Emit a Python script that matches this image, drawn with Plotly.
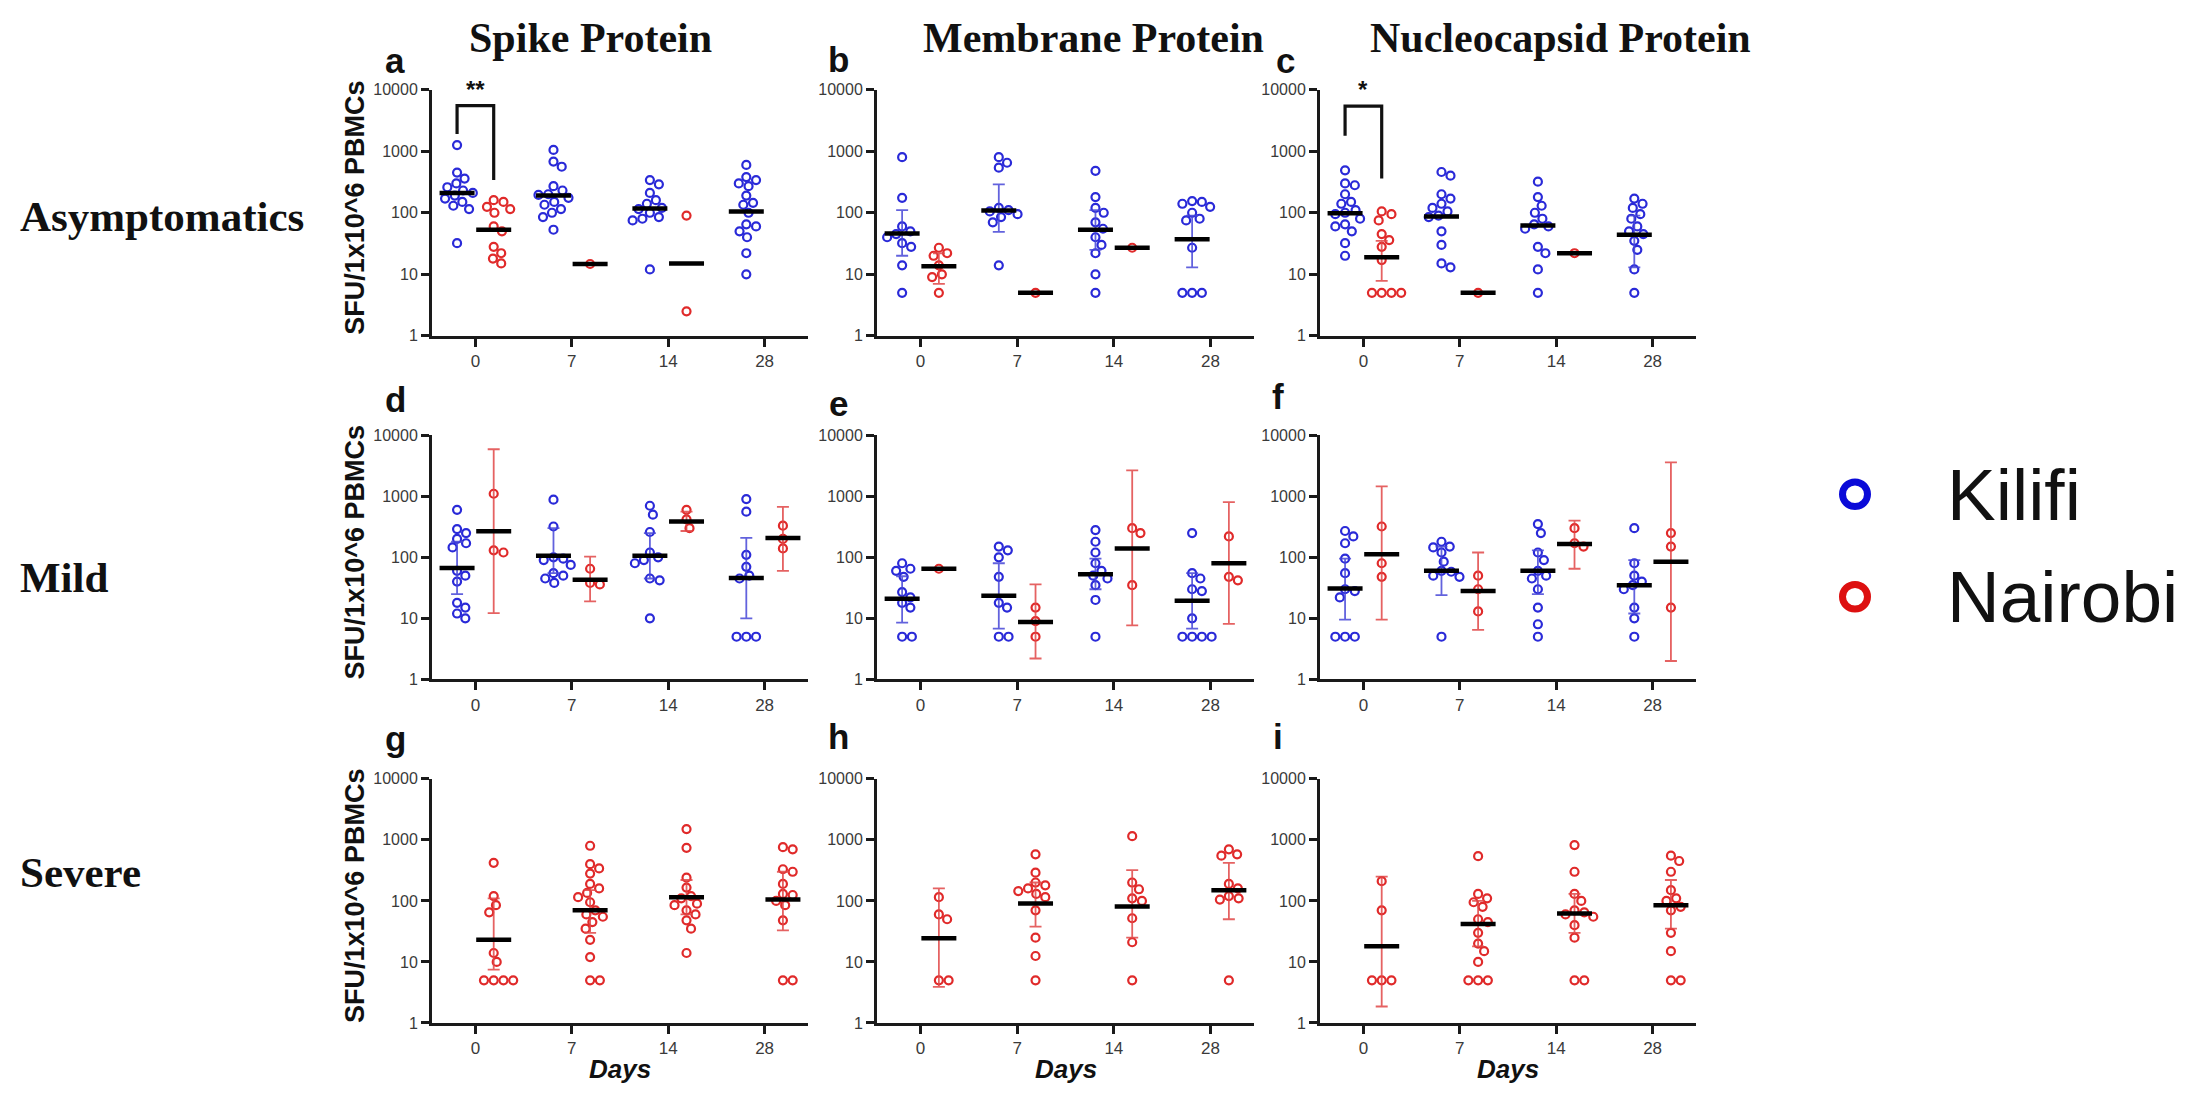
import math
import plotly.graph_objects as go

# ---- categories -------------------------------------------------------------
days = ["0", "7", "14", "28"]
proteins = ["Spike Protein", "Membrane Protein", "Nucleocapsid Protein"]
cohorts = ["Asymptomatics", "Mild", "Severe"]
y_ticks = [1, 10, 100, 1000, 10000]

# ---- Spike / Asymptomatics (a) -------------------------------------------------
a_kilifi = [[1260, 450, 360, 300, 260, 230, 210, 190, 170, 150, 130, 115, 32],
            [1050, 680, 560, 270, 230, 200, 195, 175, 150, 135, 115, 100, 85, 53],
            [340, 290, 210, 160, 140, 120, 115, 100, 85, 80, 75, 12],
            [600, 380, 340, 300, 270, 190, 145, 135, 100, 65, 60, 50, 40, 22, 10]]
a_kilifi_gm = [210, 190, 117, 105]
a_kilifi_ci = [None, None, None, None]
a_nairobi = [[160, 150, 125, 115, 100, 60, 50, 28, 22, 18, 15], [14.7], [90, 2.5], []]
a_nairobi_gm = [53, 14.7, 15, None]
a_nairobi_ci = [None, None, None, None]

# ---- Membrane / Asymptomatics (b) ----------------------------------------------
b_kilifi = [[800, 175, 60, 50, 45, 40, 32, 28, 14, 5],
            [800, 650, 540, 120, 110, 105, 95, 85, 70, 14],
            [480, 180, 120, 100, 70, 55, 40, 30, 22, 10, 5],
            [155, 150, 140, 125, 100, 80, 75, 27, 5, 5, 5]]
b_kilifi_gm = [46, 109, 53, 37]
b_kilifi_ci = [(20, 110), (49, 290), (25, 110), (13, 90)]
b_nairobi = [[27, 22, 20, 14, 10, 9, 5], [5], [27], []]
b_nairobi_gm = [13.5, 5, 27, None]
b_nairobi_ci = [(7, 22), None, None, None]

# ---- Nucleocapsid / Asymptomatics (c) ------------------------------------------
c_kilifi = [[490, 300, 280, 200, 150, 140, 110, 100, 95, 80, 65, 60, 50, 32, 20],
            [460, 400, 200, 170, 140, 120, 105, 90, 85, 50, 30, 15, 13],
            [320, 180, 130, 100, 80, 65, 60, 55, 28, 22, 12, 5],
            [170, 140, 120, 95, 80, 60, 50, 45, 35, 25, 12, 5]]
c_kilifi_gm = [98, 87, 62, 44]
c_kilifi_ci = [None, None, None, (13, 90)]
c_nairobi = [[105, 95, 75, 45, 36, 28, 17, 5, 5, 5, 5], [5], [22], []]
c_nairobi_gm = [19, 5, 22, None]
c_nairobi_ci = [(7.8, 35), None, None, None]

# ---- Spike / Mild (d) -----------------------------------------------------------
d_kilifi = [[600, 290, 250, 200, 170, 145, 60, 50, 40, 18, 15, 12, 10],
            [880, 320, 100, 95, 90, 75, 55, 50, 45, 38],
            [700, 500, 260, 120, 100, 90, 80, 45, 42, 10],
            [900, 560, 110, 70, 50, 45, 5, 5, 5]]
d_kilifi_gm = [67, 106, 106, 46]
d_kilifi_ci = [(25, 180), (55, 300), (45, 250), (10, 208)]
d_nairobi = [[1100, 130, 120], [65, 38, 36], [600, 420, 300], [330, 200, 140]]
d_nairobi_gm = [267, 43, 385, 208]
d_nairobi_ci = [(12.2, 5900), (19, 103), (270, 560), (60, 670)]

# ---- Membrane / Mild (e) --------------------------------------------------------
e_kilifi = [[80, 65, 60, 48, 27, 22, 18, 15, 5, 5],
            [150, 130, 100, 48, 18, 15, 5, 5],
            [280, 180, 120, 80, 60, 50, 45, 35, 20, 5],
            [250, 55, 45, 30, 28, 10, 5, 5, 5, 5]]
e_kilifi_gm = [21, 23.5, 53, 19.5]
e_kilifi_ci = [(8.5, 49), (6.8, 80), (30, 95), (6.8, 55)]
e_nairobi = [[65], [15, 9, 5], [300, 250, 35], [220, 48, 42]]
e_nairobi_gm = [65, 8.7, 140, 80]
e_nairobi_ci = [None, (2.2, 36), (7.7, 2650), (8.1, 800)]

# ---- Nucleocapsid / Mild (f) ----------------------------------------------------
f_kilifi = [[270, 220, 170, 95, 55, 30, 28, 22, 5, 5, 5],
            [180, 150, 145, 120, 85, 60, 58, 50, 48, 5],
            [350, 250, 120, 90, 60, 50, 45, 30, 15, 8, 5],
            [300, 80, 50, 40, 35, 30, 15, 10, 5]]
f_kilifi_gm = [30.7, 60, 60, 35]
f_kilifi_ci = [(9.5, 95), (24, 150), (25, 130), (12, 90)]
f_nairobi = [[320, 80, 48], [50, 30, 13], [300, 170, 150], [250, 150, 15]]
f_nairobi_gm = [112, 28, 165, 85]
f_nairobi_ci = [(9.5, 1450), (6.5, 120), (65, 400), (2, 3600)]

# ---- Severe cohort (Nairobi only): g, h, i ---------------------------------------
g_nairobi = [[420, 120, 85, 65, 14, 10, 5, 5, 5, 5],
             [800, 400, 340, 280, 190, 160, 135, 115, 95, 70, 60, 55, 45, 35, 23, 12, 5, 5],
             [1500, 740, 240, 165, 120, 110, 90, 85, 70, 60, 48, 35, 14],
             [760, 700, 330, 300, 190, 130, 125, 100, 85, 48, 5, 5]]
g_nairobi_gm = [23, 70, 115, 105]
g_nairobi_ci = [(7.5, 110), (30, 150), (60, 220), (33, 300)]

h_nairobi = [[115, 60, 50, 5, 5],
             [580, 290, 200, 180, 160, 145, 130, 115, 70, 25, 12.5, 5],
             [1150, 200, 155, 110, 100, 52, 21, 5],
             [700, 580, 550, 190, 160, 120, 110, 105, 5]]
h_nairobi_gm = [24.5, 91, 81, 150]
h_nairobi_ci = [(3.9, 160), (38, 200), (25, 320), (50, 420)]

i_nairobi = [[210, 70, 5, 5, 5],
             [540, 130, 110, 95, 80, 50, 45, 30, 20, 15, 10, 5, 5, 5],
             [820, 300, 130, 100, 70, 65, 60, 55, 40, 25, 5, 5],
             [550, 450, 300, 150, 110, 100, 80, 70, 30, 15, 5, 5]]
i_nairobi_gm = [18, 42, 62, 85]
i_nairobi_ci = [(1.86, 250), (18, 100), (30, 130), (35, 220)]

# ---- styling -----------------------------------------------------------------------
W, H = 2190, 1093
KILIFI = "#2a2ad8"
NAIROBI = "#e02a2a"
KILIFI_ERR = "rgba(70,70,215,0.85)"
NAIROBI_ERR = "rgba(225,70,70,0.85)"
SANS = "Arial, Liberation Sans, Helvetica, sans-serif"
SERIF = "Times New Roman, Liberation Serif, serif"

col_px = [(432, 808), (877, 1254), (1320, 1696)]
row_px = [(83, 333), (434, 682), (783, 1031)]
X_RANGE = [-0.45, 3.45]
GROUP_SHIFT = 0.19

panels = [
    ("a", a_kilifi, a_kilifi_gm, a_kilifi_ci, a_nairobi, a_nairobi_gm, a_nairobi_ci),
    ("b", b_kilifi, b_kilifi_gm, b_kilifi_ci, b_nairobi, b_nairobi_gm, b_nairobi_ci),
    ("c", c_kilifi, c_kilifi_gm, c_kilifi_ci, c_nairobi, c_nairobi_gm, c_nairobi_ci),
    ("d", d_kilifi, d_kilifi_gm, d_kilifi_ci, d_nairobi, d_nairobi_gm, d_nairobi_ci),
    ("e", e_kilifi, e_kilifi_gm, e_kilifi_ci, e_nairobi, e_nairobi_gm, e_nairobi_ci),
    ("f", f_kilifi, f_kilifi_gm, f_kilifi_ci, f_nairobi, f_nairobi_gm, f_nairobi_ci),
    ("g", None, None, None, g_nairobi, g_nairobi_gm, g_nairobi_ci),
    ("h", None, None, None, h_nairobi, h_nairobi_gm, h_nairobi_ci),
    ("i", None, None, None, i_nairobi, i_nairobi_gm, i_nairobi_ci),
]


def swarm_x(values, center, px_per_unit, px_per_decade, diam=9.5):
    """Beeswarm layout: nudge overlapping circles sideways in pixel space."""
    placed = []
    xs = [0.0] * len(values)
    order = sorted(range(len(values)), key=lambda k: -values[k])
    cands = [0.0]
    for s in range(1, 60):
        cands += [s * 0.75, -s * 0.75]
    for k in order:
        y = math.log10(values[k]) * px_per_decade
        for off in cands:
            if all((off - px) ** 2 + (y - py) ** 2 >= diam ** 2 for px, py in placed):
                break
        placed.append((off, y))
        xs[k] = center + off / px_per_unit
    return xs


fig = go.Figure()
layout = {}

for p, (letter, kv, kgm, kci, nv, ngm, nci) in enumerate(panels):
    r, c = divmod(p, 3)
    xid = "" if p == 0 else str(p + 1)
    xa, ya = "x" + xid, "y" + xid
    x0, x1 = col_px[c]
    y0, y1 = row_px[r]
    ppu = (x1 - x0) / (X_RANGE[1] - X_RANGE[0])
    ppd = (y1 - y0) / 4.0

    layout["xaxis" + xid] = dict(
        domain=[x0 / W, x1 / W], anchor=ya, range=X_RANGE,
        tickmode="array", tickvals=[0, 1, 2, 3], ticktext=days,
        ticks="outside", ticklen=8, tickwidth=3, tickcolor="#1a1a1a",
        showline=True, linewidth=3, linecolor="#1a1a1a",
        showgrid=False, zeroline=False, fixedrange=True,
        tickfont=dict(family=SANS, size=17, color="#3a3a3a"))
    layout["yaxis" + xid] = dict(
        domain=[1 - y1 / H, 1 - y0 / H], anchor=xa, type="log", range=[0, 4],
        tickmode="array", tickvals=y_ticks, ticktext=[str(t) for t in y_ticks],
        ticks="outside", ticklen=8, tickwidth=3, tickcolor="#1a1a1a",
        showline=True, linewidth=3, linecolor="#1a1a1a",
        showgrid=False, zeroline=False, fixedrange=True,
        tickfont=dict(family=SANS, size=16, color="#3a3a3a"))

    groups = []
    if kv is not None:
        groups.append((kv, kgm, kci, -GROUP_SHIFT, KILIFI, KILIFI_ERR))
        groups.append((nv, ngm, nci, GROUP_SHIFT, NAIROBI, NAIROBI_ERR))
    else:
        groups.append((nv, ngm, nci, GROUP_SHIFT, NAIROBI, NAIROBI_ERR))

    # individual donors
    for vals, gm, ci, shift, col, ecol in groups:
        for d, dv in enumerate(vals):
            if not dv:
                continue
            fig.add_trace(go.Scatter(
                x=swarm_x(dv, d + shift, ppu, ppd), y=dv, xaxis=xa, yaxis=ya,
                mode="markers", showlegend=False, hoverinfo="y",
                marker=dict(symbol="circle-open", size=8, color=col,
                            line=dict(width=2.2, color=col))))
    # 95% CI whiskers
    for vals, gm, ci, shift, col, ecol in groups:
        for d in range(4):
            if gm[d] is None or ci[d] is None:
                continue
            lo, hi = ci[d]
            fig.add_trace(go.Scatter(
                x=[d + shift], y=[gm[d]], xaxis=xa, yaxis=ya, mode="markers",
                showlegend=False, hoverinfo="skip", marker=dict(size=1, opacity=0),
                error_y=dict(type="data", symmetric=False, array=[hi - gm[d]],
                             arrayminus=[gm[d] - lo], color=ecol, thickness=1.8, width=6)))
    # geometric mean bars
    for vals, gm, ci, shift, col, ecol in groups:
        xs = [d + shift for d in range(4) if gm[d] is not None]
        ys = [g for g in gm if g is not None]
        fig.add_trace(go.Scatter(
            x=xs, y=ys, xaxis=xa, yaxis=ya, mode="markers", showlegend=False,
            hoverinfo="y",
            marker=dict(symbol="line-ew", size=25, color="black",
                        line=dict(width=4.5, color="black"))))

# significance brackets (Kilifi vs Nairobi, day 0)
brackets = [("x", "y", [1900, 5500, 5500, 340], "**"),
            ("x3", "y3", [1780, 5400, 5400, 360], "*")]
annotations = []
for xa, ya, yv, stars in brackets:
    fig.add_trace(go.Scatter(
        x=[-GROUP_SHIFT, -GROUP_SHIFT, GROUP_SHIFT, GROUP_SHIFT], y=yv,
        xaxis=xa, yaxis=ya, mode="lines", showlegend=False, hoverinfo="skip",
        line=dict(color="#111111", width=3.2)))
    annotations.append(dict(x=0, y=4.0, xref=xa, yref=ya, text="<b>" + stars + "</b>",
                            showarrow=False, yanchor="middle",
                            font=dict(family=SANS, size=24, color="#111111")))

# panel letters
letter_pos = [(395, 53), (838, 52), (1285, 53),
              (395, 398), (838, 402), (1278, 395),
              (395, 742), (838, 740), (1278, 740)]
for (lx, ly), (letter, *_rest) in zip(letter_pos, panels):
    annotations.append(dict(x=lx / W, y=1 - ly / H, xref="paper", yref="paper",
                            text="<b>" + letter + "</b>", showarrow=False,
                            xanchor="center", yanchor="middle",
                            font=dict(family=SANS, size=35, color="#111111")))

# protein headers
for cx, name in zip([590, 1093, 1560], proteins):
    annotations.append(dict(x=cx / W, y=1 - 30 / H, xref="paper", yref="paper",
                            text="<b>" + name + "</b>", showarrow=False,
                            xanchor="center", yanchor="middle",
                            font=dict(family=SERIF, size=42, color="#111111")))

# cohort labels
for cy, name in zip([212, 578, 878], cohorts):
    annotations.append(dict(x=18 / W, y=1 - cy / H, xref="paper", yref="paper",
                            text="<b>" + name + "</b>", showarrow=False,
                            xanchor="left", yanchor="middle",
                            font=dict(family=SERIF, size=43, color="#111111")))

# y-axis titles (first column) and "Days" (bottom row)
for r in range(3):
    y0, y1 = row_px[r]
    annotations.append(dict(x=355 / W, y=1 - ((y0 + y1) / 2 - 5) / H, xref="paper", yref="paper",
                            text="<b>SFU/1x10^6 PBMCs</b>", showarrow=False, textangle=-90,
                            xanchor="center", yanchor="middle",
                            font=dict(family=SANS, size=27, color="#111111")))
for c in range(3):
    x0, x1 = col_px[c]
    annotations.append(dict(x=(x0 + x1) / 2 / W, y=1 - 1078 / H, xref="paper", yref="paper",
                            text="<b><i>Days</i></b>", showarrow=False,
                            xanchor="center", yanchor="middle",
                            font=dict(family=SANS, size=26, color="#111111")))

# legend
shapes = []
for cy, name, col in [(494, "Kilifi", "#0a0ad8"), (598, "Nairobi", "#dd1010")]:
    rad = 12.5
    shapes.append(dict(type="circle", xref="paper", yref="paper",
                       x0=(1855 - rad) / W, x1=(1855 + rad) / W,
                       y0=1 - (cy + rad) / H, y1=1 - (cy - rad) / H,
                       line=dict(color=col, width=7), fillcolor="rgba(0,0,0,0)"))
    annotations.append(dict(x=1945 / W, y=1 - cy / H, xref="paper", yref="paper",
                            text=name, showarrow=False, xanchor="left", yanchor="middle",
                            font=dict(family=SANS, size=73, color="#111111")))

fig.update_layout(
    width=W, height=H, autosize=False,
    margin=dict(l=0, r=0, t=0, b=0),
    paper_bgcolor="white", plot_bgcolor="white",
    showlegend=False, annotations=annotations, shapes=shapes,
    **layout)

fig.write_html("out.html", config={"displayModeBar": False})
